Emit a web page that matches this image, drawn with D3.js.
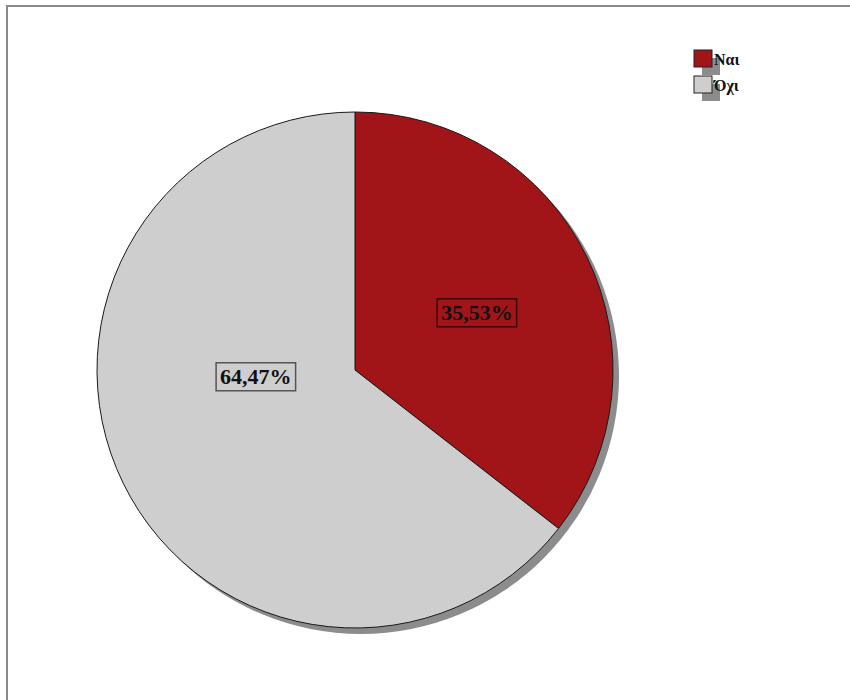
<!DOCTYPE html>
<html>
<head>
<meta charset="utf-8">
<script src="https://cdn.jsdelivr.net/npm/d3@7"></script>
<style>
  html, body { margin: 0; padding: 0; background: #fff; }
  svg { display: block; }
</style>
</head>
<body>
<svg id="chart" width="850" height="700"></svg>
<script>
// Answer categories and their shares (%)
const categories = ["Ναι", "Όχι"];
const values = [35.53, 64.47];
const valueLabels = ["35,53%", "64,47%"];
const colors = ["#a11418", "#cecece"];

const svg = d3.select("#chart");

// outer frame
svg.append("path")
  .attr("d", "M7,700 V6 H850")
  .attr("fill", "none")
  .attr("stroke", "#8a8a8a")
  .attr("stroke-width", 2);

const cx = 355, cy = 370, radius = 258;

const pie = d3.pie().sort(null).value(d => d);
const arcs = pie(values);
const arc = d3.arc().innerRadius(0).outerRadius(radius);

const g = svg.append("g").attr("transform", `translate(${cx},${cy})`);

// drop shadow
g.append("circle")
  .attr("cx", 6).attr("cy", 6).attr("r", radius)
  .attr("fill", "#8c8c8c");

g.selectAll("path.slice")
  .data(arcs)
  .join("path")
  .attr("class", "slice")
  .attr("d", arc)
  .attr("fill", (d, i) => colors[i])
  .attr("stroke", "#1a1a1a")
  .attr("stroke-width", 1);

// value labels, placed along a polar offset from the centre
const labelPlacement = [
  { angle: 64.6, r: 0.523 },
  { angle: 266.5, r: 0.385 }
];
const labels = g.selectAll("g.lbl")
  .data(arcs)
  .join("g")
  .attr("class", "lbl")
  .attr("transform", (d, i) => {
    const a = labelPlacement[i].angle * Math.PI / 180;
    const rr = labelPlacement[i].r * radius;
    return `translate(${rr * Math.sin(a)},${-rr * Math.cos(a)})`;
  });

labels.each(function (d, i) {
  const sel = d3.select(this);
  const t = sel.append("text")
    .attr("text-anchor", "middle")
    .attr("dy", "0.35em")
    .attr("font-family", "Liberation Serif, Times New Roman, serif")
    .attr("font-weight", "bold")
    .attr("font-size", 22)
    .attr("fill", "#111")
    .text(valueLabels[i]);
  const bb = t.node().getBBox();
  sel.insert("rect", "text")
    .attr("x", bb.x - 4).attr("y", bb.y - 1)
    .attr("width", bb.width + 8).attr("height", bb.height + 3)
    .attr("fill", colors[i])
    .attr("stroke", i === 0 ? "#3a0808" : "#555")
    .attr("stroke-width", 1.5);
});

// legend
const legend = svg.append("g").attr("transform", "translate(694,50)");
const rowH = 26;
legend.selectAll("rect.shadow")
  .data(categories)
  .join("rect")
  .attr("class", "shadow")
  .attr("x", 8).attr("y", (d, i) => i * rowH + 8)
  .attr("width", 18).attr("height", 17)
  .attr("fill", "#8c8c8c");
legend.selectAll("rect.sw")
  .data(categories)
  .join("rect")
  .attr("class", "sw")
  .attr("x", 0).attr("y", (d, i) => i * rowH)
  .attr("width", 18).attr("height", 17)
  .attr("fill", (d, i) => colors[i])
  .attr("stroke", "#222")
  .attr("stroke-width", 1);
legend.selectAll("text")
  .data(categories)
  .join("text")
  .attr("x", 20).attr("y", (d, i) => i * rowH + 15)
  .attr("font-family", "Liberation Serif, Times New Roman, serif")
  .attr("font-weight", "bold")
  .attr("font-size", 16)
  .attr("fill", "#111")
  .text(d => d);
</script>
</body>
</html>
